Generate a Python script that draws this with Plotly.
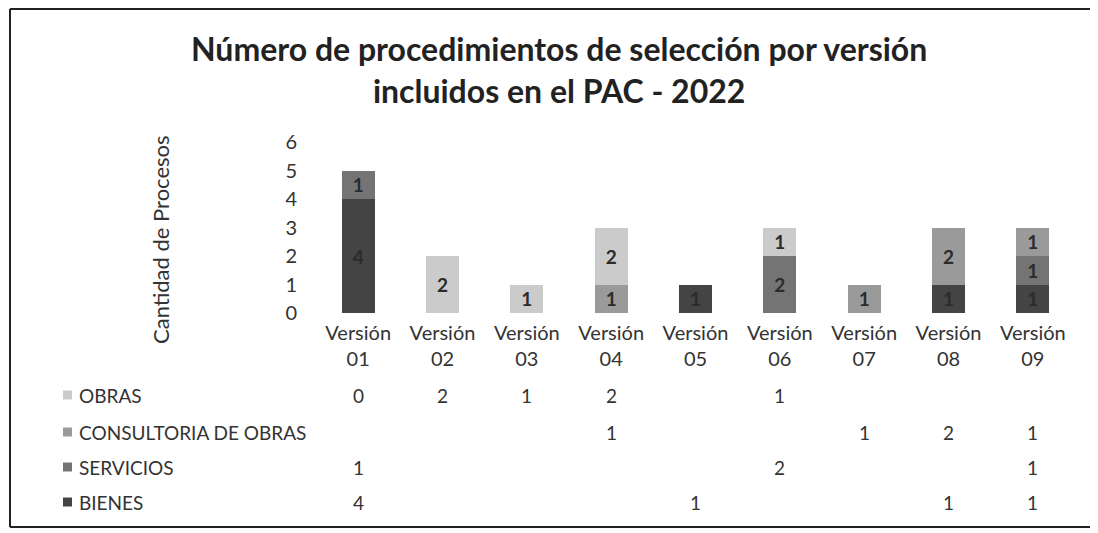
import plotly.graph_objects as go

categories = ["Versión 01", "Versión 02", "Versión 03", "Versión 04", "Versión 05",
              "Versión 06", "Versión 07", "Versión 08", "Versión 09"]
tick_labels = ["Versión<br>01", "Versión<br>02", "Versión<br>03", "Versión<br>04", "Versión<br>05",
               "Versión<br>06", "Versión<br>07", "Versión<br>08", "Versión<br>09"]

bienes = [4, None, None, None, 1, None, None, 1, 1]
servicios = [1, None, None, None, None, 2, None, None, 1]
consultoria = [None, None, None, 1, None, None, 1, 2, 1]
obras = [0, 2, 1, 2, None, 1, None, None, None]

# stacking order bottom -> top
series = [
    ("BIENES", bienes, "#444444"),
    ("SERVICIOS", servicios, "#747474"),
    ("CONSULTORIA DE OBRAS", consultoria, "#9a9a9a"),
    ("OBRAS", obras, "#cbcbcb"),
]
# table row order (top -> bottom)
table_order = ["OBRAS", "CONSULTORIA DE OBRAS", "SERVICIOS", "BIENES"]

FONT = "Lato, 'Open Sans', sans-serif"
TXT = "#333333"

# page offset (default body margin of the html page)
OFF = 8
W, H = 1098 - OFF, 533 - OFF
# plot area in page pixels: x 316..1075, y 142..313
L, R = 316 - OFF, W - (1075 - OFF)
T, B = 142 - OFF, H - (313 - OFF)
pw, ph = W - L - R, H - T - B


def px_x(x):
    return (x - OFF - L) / pw


def px_y(y):
    return (H - B - (y - OFF)) / ph


fig = go.Figure()
for name, vals, color in series:
    fig.add_trace(go.Bar(
        x=categories, y=vals, name=name,
        marker=dict(color=color, line=dict(width=0)),
        text=[str(v) if v else "" for v in vals],
        texttemplate="<b>%{text}</b>",
        textposition="inside", insidetextanchor="middle", textangle=0,
        textfont=dict(family=FONT, size=19, color="#2b2b2b"),
        constraintext="none",
        showlegend=False,
    ))

annotations = []
# chart title
annotations.append(dict(
    text="<b>Número de procedimientos de selección por versión<br>incluidos en el PAC - 2022</b>",
    x=px_x(559), y=px_y(69), xref="paper", yref="paper", showarrow=False,
    xanchor="center", yanchor="middle", align="center",
    font=dict(family=FONT, size=32, color="#222222")))
# y-axis title
annotations.append(dict(
    text="Cantidad de Procesos", x=px_x(160), y=px_y(240), xref="paper", yref="paper",
    textangle=-90, showarrow=False, font=dict(family=FONT, size=22, color=TXT),
    xanchor="center", yanchor="middle"))

# data table rows
row_y = [395, 432, 467, 502]
lookup = {n: (v, c) for n, v, c in series}
shapes = []
for ry, name in zip(row_y, table_order):
    vals, color = lookup[name]
    yp = px_y(ry)
    shapes.append(dict(type="rect", xref="paper", yref="paper",
                       x0=px_x(63), x1=px_x(72), y0=yp - 4.5 / ph, y1=yp + 4.5 / ph,
                       fillcolor=color, line=dict(width=0)))
    annotations.append(dict(text=name, x=px_x(77), y=yp, xref="paper", yref="paper",
                            xanchor="left", yanchor="middle", showarrow=False,
                            font=dict(family=FONT, size=19, color=TXT)))
    for cat, v in zip(categories, vals):
        if v is not None:
            annotations.append(dict(text=str(v), x=cat, y=yp, xref="x", yref="paper",
                                    xanchor="center", yanchor="middle", showarrow=False,
                                    font=dict(family=FONT, size=19, color=TXT)))

# outer frame: left, top and bottom edges
frame = dict(color="#222222", width=2)
shapes.append(dict(type="line", xref="paper", yref="paper",
                   x0=px_x(10), x1=px_x(10), y0=px_y(527), y1=px_y(9), line=frame))
shapes.append(dict(type="line", xref="paper", yref="paper",
                   x0=px_x(10), x1=px_x(1098), y0=px_y(9), y1=px_y(9), line=frame))
shapes.append(dict(type="line", xref="paper", yref="paper",
                   x0=px_x(10), x1=px_x(1098), y0=px_y(527), y1=px_y(527), line=frame))

fig.update_layout(
    width=W, height=H,
    barmode="stack", bargap=0.61,
    paper_bgcolor="white", plot_bgcolor="white",
    margin=dict(l=L, r=R, t=T, b=B),
    font=dict(family=FONT, color=TXT),
    annotations=annotations, shapes=shapes,
    xaxis=dict(tickmode="array", tickvals=categories, ticktext=tick_labels,
               tickfont=dict(family=FONT, size=20, color=TXT),
               showgrid=False, showline=False, zeroline=False, ticks="",
               ticklabelstandoff=6),
    yaxis=dict(range=[0, 6], dtick=1, tickfont=dict(family=FONT, size=20, color=TXT),
               showgrid=False, showline=False, zeroline=False, ticks="",
               ticklabelstandoff=18),
)

fig.write_html("out.html")
